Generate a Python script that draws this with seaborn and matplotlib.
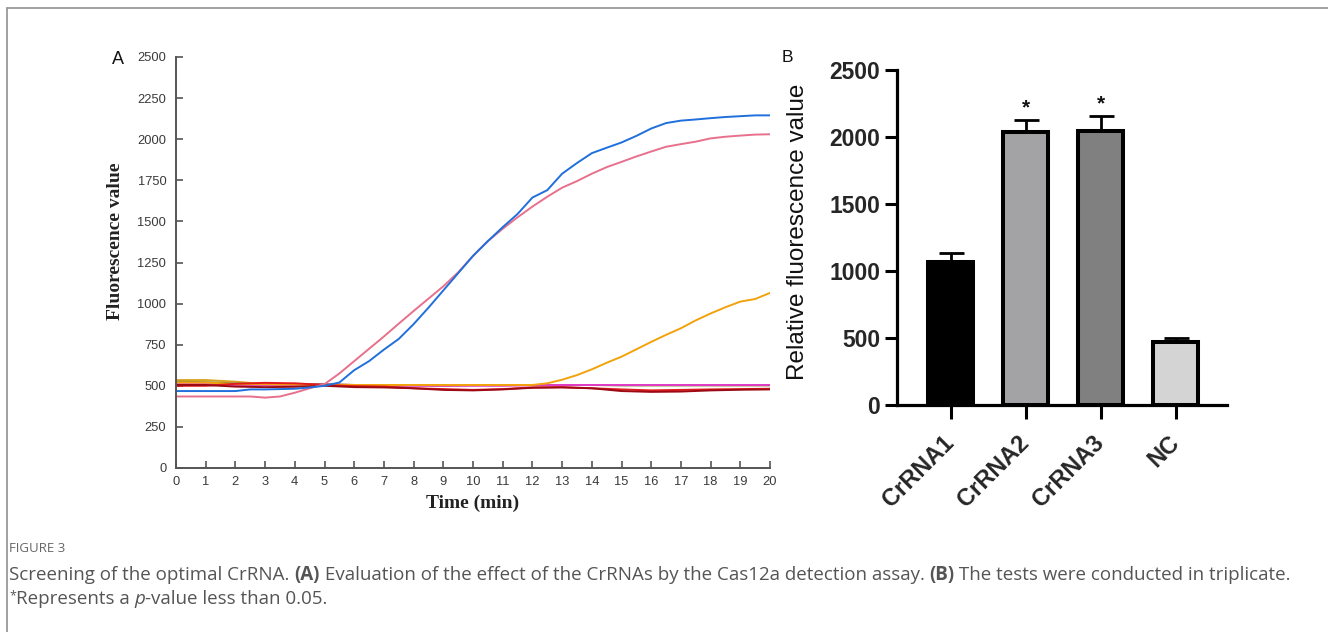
import numpy as np
import pandas as pd
import matplotlib
matplotlib.use("Agg")
import matplotlib.pyplot as plt
import seaborn as sns
from matplotlib.lines import Line2D

# ---------------- Panel A data (fluorescence curves) ----------------
time_fine = [0, 0.5, 1, 1.5, 2, 2.5, 3, 3.5, 4, 4.5, 5, 5.5, 6, 6.5, 7, 7.5, 8, 8.5, 9, 9.5, 10,
             10.5, 11, 11.5, 12, 12.5, 13, 13.5, 14, 14.5, 15, 15.5, 16, 16.5, 17, 17.5, 18,
             18.5, 19, 19.5, 20]
time_coarse = [0, 1, 2, 3, 4, 5, 6, 7, 8, 9, 10, 11, 12, 13, 14, 15, 16, 17, 18, 19, 20]

blue_vals = [468, 468, 468, 468, 468, 478, 478, 480, 482, 490, 500, 520, 595, 650, 720, 785, 875,
             975, 1080, 1185, 1290, 1380, 1465, 1545, 1645, 1690, 1790, 1855, 1915, 1948, 1980,
             2020, 2065, 2098, 2113, 2120, 2128, 2135, 2140, 2145, 2145]
pink_vals = [435, 435, 435, 435, 435, 435, 428, 435, 458, 485, 510, 575, 650, 725, 800, 878, 955,
             1030, 1105, 1190, 1290, 1380, 1455, 1525, 1590, 1650, 1705, 1745, 1790, 1830, 1862,
             1895, 1925, 1954, 1970, 1985, 2005, 2015, 2022, 2028, 2030]
orange_vals = [520, 520, 520, 515, 510, 510, 510, 508, 508, 505, 505, 505, 505, 505, 505, 505, 505,
               505, 505, 505, 505, 505, 505, 505, 505, 515, 537, 565, 600, 640, 677, 722, 767, 810,
               850, 898, 940, 978, 1012, 1028, 1065]
gold_vals = [535, 535, 525, 510, 510, 508, 505, 505, 505, 505, 505, 505, 505, 505, 505, 505, 505,
             505, 505, 505, 505]
olive_vals = [525, 522, 515, 508, 512, 510, 505, 500, 505, 500, 505, 505, 505, 505, 505, 502, 502,
              502, 502, 502, 502]
magenta_vals = [510, 510, 505, 505, 505, 508, 505, 500, 500, 500, 500, 500, 503, 505, 505, 505, 505,
                505, 505, 505, 505]
red_vals = [500, 500, 512, 518, 515, 505, 498, 495, 485, 480, 475, 480, 490, 492, 485, 478, 472,
            475, 478, 480, 482]
darkred_vals = [505, 505, 495, 492, 494, 500, 492, 490, 485, 475, 472, 478, 488, 490, 485, 468, 463,
                465, 472, 476, 478]

series_names = ["gold", "olive", "magenta", "orange", "red", "darkred", "pink", "blue"]
series_colors = ["#d9a521", "#8c8a3c", "#e03cc8", "#f2a20c", "#e31a1c", "#9b0a14", "#e8708c", "#1f6fdc"]

# ---------------- Panel B data (bar chart) ----------------
categories = ["CrRNA1", "CrRNA2", "CrRNA3", "NC"]
bar_values = [1065, 2035, 2045, 470]
bar_errors = [70, 95, 115, 33]
bar_colors = ["#000000", "#a3a3a7", "#808080", "#d4d4d4"]
significant = ["", "*", "*", ""]

# ---------------- build long-form table ----------------
rows = []
fine = {"blue": blue_vals, "pink": pink_vals, "orange": orange_vals}
coarse = {"gold": gold_vals, "olive": olive_vals, "magenta": magenta_vals,
          "red": red_vals, "darkred": darkred_vals}
for name, vals in fine.items():
    for t, v in zip(time_fine, vals):
        rows.append((name, t, v))
for name, vals in coarse.items():
    for t, v in zip(time_coarse, vals):
        rows.append((name, t, v))
dfA = pd.DataFrame(rows, columns=["series", "time", "value"])

dfB = pd.DataFrame({"cat": categories, "val": bar_values})

# ---------------- figure ----------------
sns.set_style("white")
plt.rcParams["font.family"] = ["Liberation Sans", "DejaVu Sans"]

W, H = 1328, 632
fig = plt.figure(figsize=(W / 100, H / 100), dpi=100)

def fx(px):
    return px / W

def fy(py):
    return 1 - py / H

# frame
fig.add_artist(Line2D([fx(7), fx(7)], [fy(8), 0], color="#9a9a9a", lw=1.3, transform=fig.transFigure))
fig.add_artist(Line2D([fx(7), 1], [fy(8), fy(8)], color="#9a9a9a", lw=1.3, transform=fig.transFigure))

# ----- Panel A -----
axA = fig.add_axes([fx(176), fy(468), fx(770) - fx(176), fy(57) - fy(468)])
sns.lineplot(data=dfA, x="time", y="value", hue="series", hue_order=series_names,
             palette=dict(zip(series_names, series_colors)), linewidth=1.4,
             legend=False, ax=axA, sort=True, estimator=None)
axA.set_xlim(0, 20)
axA.set_ylim(0, 2500)
axA.set_xticks(range(0, 21))
axA.set_yticks(range(0, 2501, 250))
for s in ["top", "right"]:
    axA.spines[s].set_visible(False)
for s in ["left", "bottom"]:
    axA.spines[s].set_color("#555555")
    axA.spines[s].set_linewidth(1.4)
axA.tick_params(axis="both", direction="in", length=5, width=1.2, color="#555555",
                labelsize=9.3, labelcolor="#3a3a3a", bottom=True, left=True)
axA.tick_params(axis="y", pad=7)
axA.tick_params(axis="x", pad=6)
axA.set_xlabel("")
axA.set_ylabel("")
fig.text(fx(116), fy(241), "Fluorescence value", rotation=90, ha="center", va="center",
         fontsize=14, fontweight="bold", family=["Liberation Serif", "DejaVu Serif"], color="#222222")
fig.text(fx(473), fy(503), "Time (min)", ha="center", va="center",
         fontsize=14, fontweight="bold", family=["Liberation Serif", "DejaVu Serif"], color="#222222")
fig.text(fx(118), fy(60), "A", ha="center", va="center", fontsize=13, color="#111111")

# ----- Panel B -----
axB = fig.add_axes([fx(897), fy(405), fx(1227) - fx(897), fy(70) - fy(405)])
sns.barplot(data=dfB, x="cat", y="val", hue="cat", palette=dict(zip(categories, bar_colors)),
            legend=False, width=0.6, edgecolor="black", linewidth=2.9, ax=axB, zorder=3)
axB.errorbar(x=list(range(len(categories))), y=bar_values,
             yerr=[[0] * len(bar_errors), bar_errors], fmt="none", ecolor="black",
             elinewidth=2.0, capsize=9, capthick=2.0, zorder=2)
for i, mark in enumerate(significant):
    if mark:
        axB.text(i, bar_values[i] + bar_errors[i] + 85, mark, ha="center", va="center",
                 fontsize=15, fontweight="bold", color="#111111")
axB.set_xlim(-0.715, 3.68)
axB.set_ylim(0, 2500)
axB.set_yticks(range(0, 2501, 500))
for s in ["top", "right"]:
    axB.spines[s].set_visible(False)
for s in ["left", "bottom"]:
    axB.spines[s].set_color("black")
    axB.spines[s].set_linewidth(2.3)
axB.tick_params(axis="y", direction="out", length=9, width=2.2, color="black", pad=3,
                labelsize=16.5, left=True)
axB.tick_params(axis="x", direction="out", length=10, width=2.2, color="black", pad=15,
                labelsize=17, bottom=True)
for lab in axB.get_yticklabels():
    lab.set_fontweight("bold")
for lab in axB.get_xticklabels():
    lab.set_fontweight("bold")
    lab.set_rotation(45)
    lab.set_ha("right")
    lab.set_va("center")
    lab.set_rotation_mode("anchor")
axB.set_xlabel("")
axB.set_ylabel("")
fig.text(fx(798), fy(232), "Relative fluorescence value", rotation=90, ha="center", va="center",
         fontsize=17.5, color="#111111")
fig.text(fx(787), fy(57), "B", ha="center", va="center", fontsize=12.5, color="#111111")

# ----- caption -----
cap_font = ["Open Sans", "DejaVu Sans"]
cap_col = "#555555"
cap_size = 13.5
fig.text(fx(9), fy(549), "FIGURE 3", ha="left", va="center", fontsize=9.5, color="#666666",
         family=cap_font)

line1 = [("Screening of the optimal CrRNA. ", {}),
         ("(A)", {"fontweight": "bold"}),
         (" Evaluation of the effect of the CrRNAs by the Cas12a detection assay. ", {}),
         ("(B)", {"fontweight": "bold"}),
         (" The tests were conducted in triplicate.", {})]
line2 = [("*", {"fontsize": 9}),
         ("Represents a ", {}),
         ("p", {"style": "italic"}),
         ("-value less than 0.05.", {})]

renderer = fig.canvas.get_renderer()

def place(pieces, x0px, ybase_px):
    x = x0px
    for txt, kw in pieces:
        style = dict(fontsize=cap_size, color=cap_col, family=cap_font)
        style.update(kw)
        yb = ybase_px
        if txt == "*":
            yb = ybase_px - 5
        t = fig.text(fx(x), fy(yb), txt, ha="left", va="baseline", **style)
        bb = t.get_window_extent(renderer=renderer)
        x += bb.width

place(line1, 9, 580)
place(line2, 9, 604)

fig.savefig("out.png", dpi=100)
